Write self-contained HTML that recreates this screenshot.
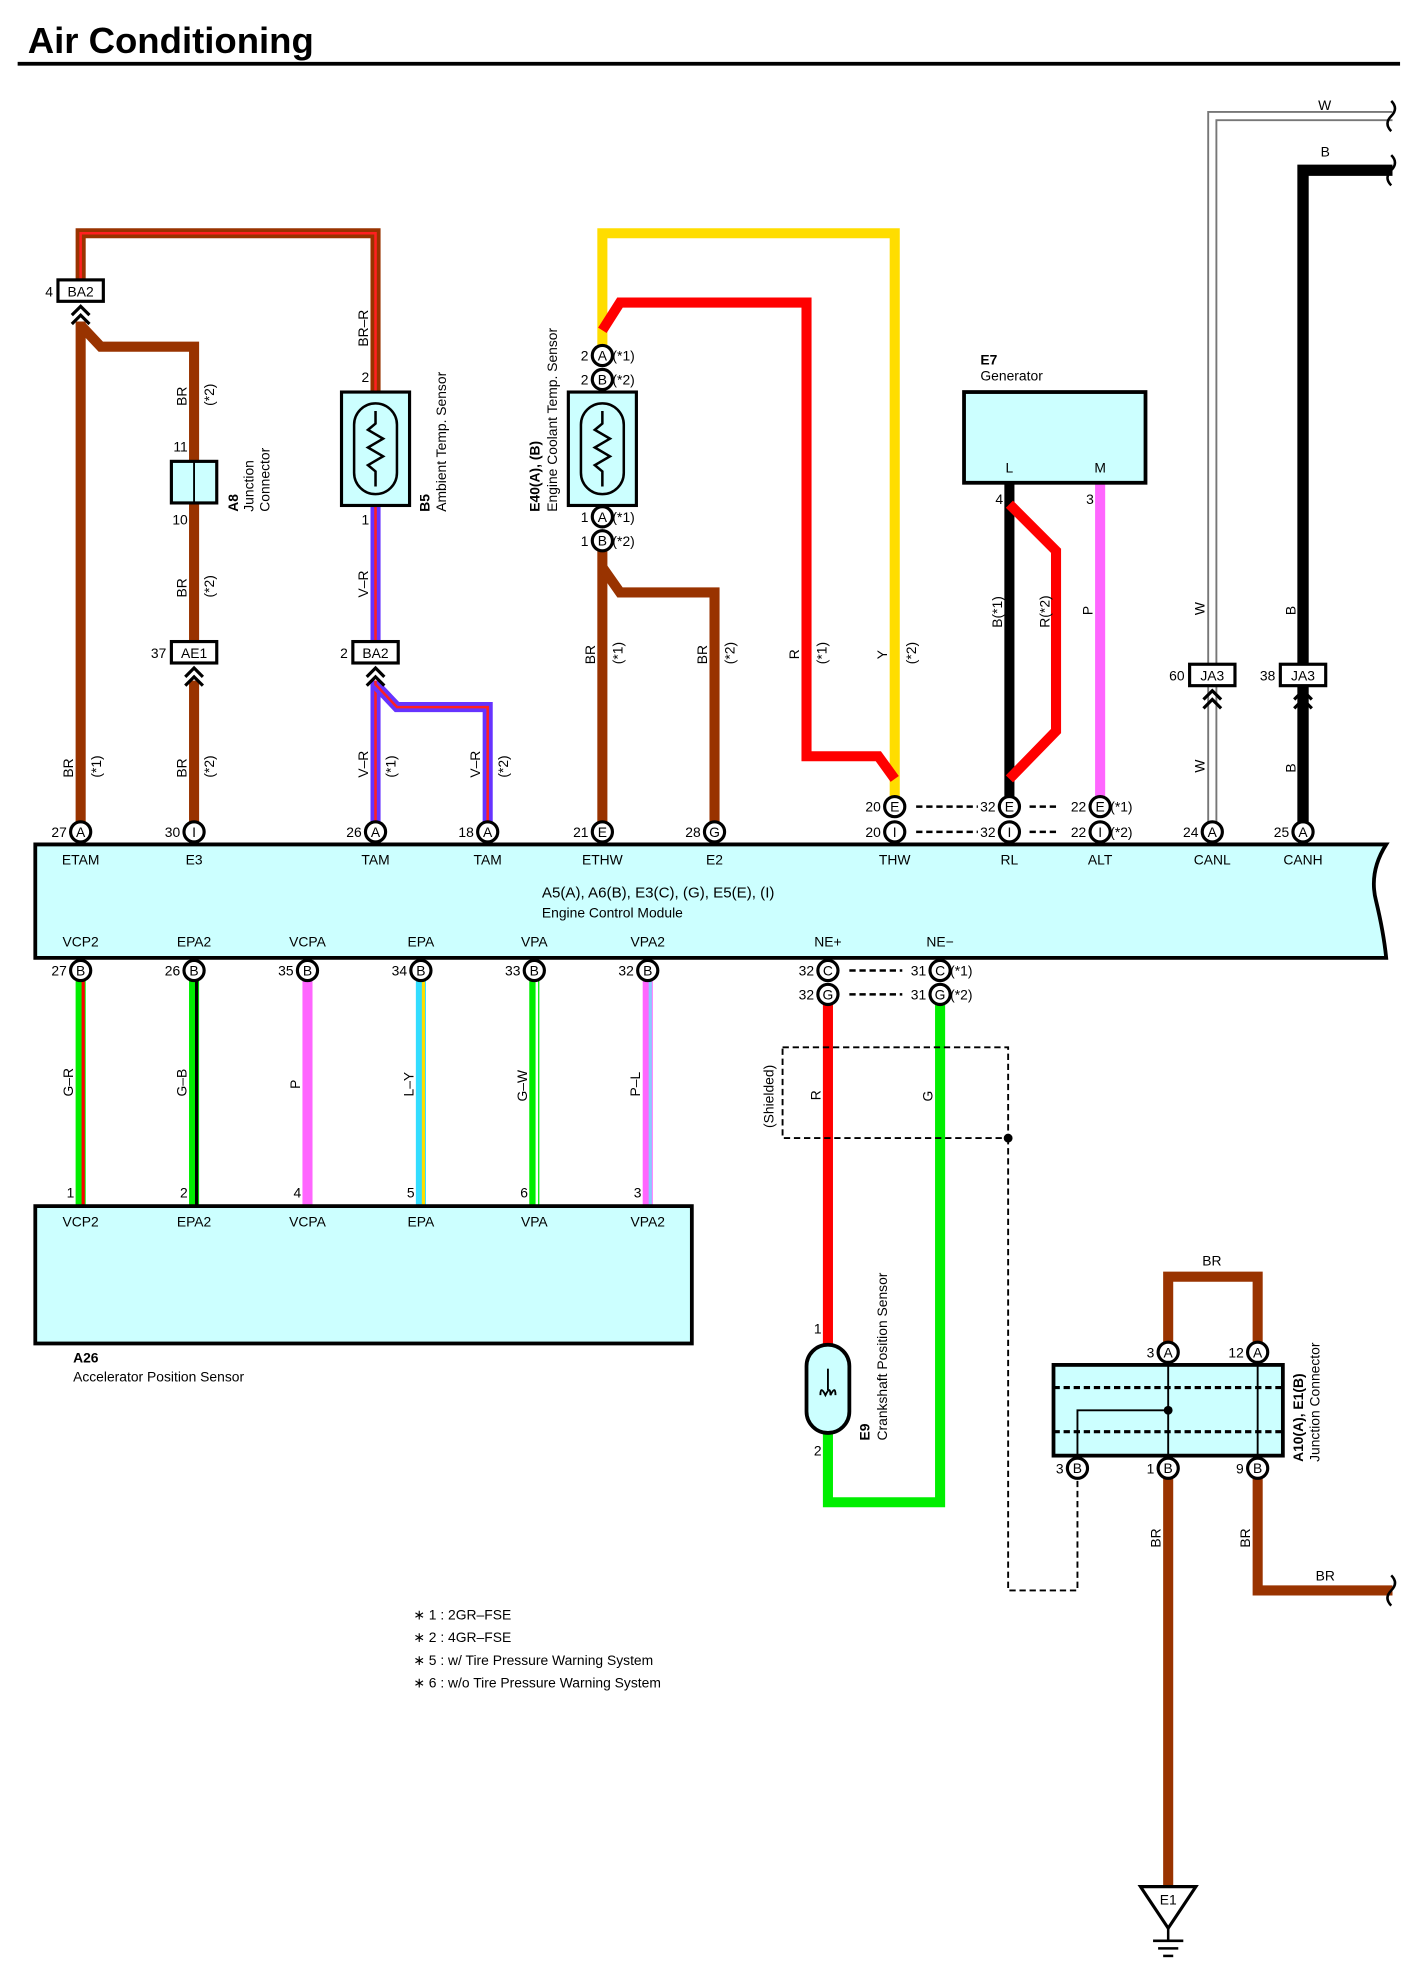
<!DOCTYPE html>
<html><head><meta charset="utf-8"><style>
html,body{margin:0;padding:0;background:#fff}
svg{display:block}
text{font-family:"Liberation Sans",Arial,sans-serif;font-size:11px;fill:#000}
.p{fill:#fff;stroke:#000;stroke-width:2.5}
.pl{font-size:10px;text-anchor:middle;dominant-baseline:central}
.n{font-size:11px;text-anchor:end}
.c{text-anchor:middle}
</style></head><body>
<svg width="1424" height="1980" viewBox="0 0 1130 1571" xmlns="http://www.w3.org/2000/svg">
<text x="22" y="42" style="font-size:29px;font-weight:bold">Air Conditioning</text>
<rect x="14" y="49" width="1097" height="3" fill="#000"/>

<g fill="none" stroke-linejoin="miter">
<polyline points="64,225 64,185 298,185 298,312" stroke="#993300" stroke-width="8"/>
<polyline points="64,225 64,185 298,185 298,312" stroke="#ff2020" stroke-width="2"/>
<polyline points="64,255 64,660" stroke="#993300" stroke-width="8"/>
<polyline points="64,258 80,275 154,275 154,366" stroke="#993300" stroke-width="8"/>
<polyline points="154,399 154,512" stroke="#993300" stroke-width="8"/>
<polyline points="154,540 154,660" stroke="#993300" stroke-width="8"/>
<polyline points="298,400 298,512" stroke="#6633ff" stroke-width="8"/>
<polyline points="298,400 298,512" stroke="#ff2020" stroke-width="2"/>
<polyline points="298,540 298,660" stroke="#6633ff" stroke-width="8"/>
<polyline points="298,540 298,660" stroke="#ff2020" stroke-width="2"/>
<polyline points="298,543 315,561 387,561 387,660" stroke="#6633ff" stroke-width="8"/>
<polyline points="298,543 315,561 387,561 387,660" stroke="#ff2020" stroke-width="2"/>
<polyline points="478,282 478,185 710,185 710,640" stroke="#ffdd00" stroke-width="8"/>
<polyline points="478,262 492,240 640,240 640,600 697,600 710,618" stroke="#ff0000" stroke-width="8"/>
<polyline points="478,430 478,660" stroke="#993300" stroke-width="8"/>
<polyline points="478,450 492,470 567,470 567,660" stroke="#993300" stroke-width="8"/>
<polyline points="801,383 801,640" stroke="#000" stroke-width="8"/>
<polyline points="801,400 838,437 838,580 801,618" stroke="#ff0000" stroke-width="8"/>
<polyline points="873,383 873,640" stroke="#ff66ff" stroke-width="8"/>
<polyline points="962,660 962,92 1105,92" stroke="#777" stroke-width="8"/>
<polyline points="962,660 962,92 1105,92" stroke="#fff" stroke-width="5"/>
<polyline points="1034,660 1034,135 1105,135" stroke="#000" stroke-width="9"/>
<line x1="64" y1="778" x2="64" y2="957" stroke="#00ee00" stroke-width="8"/><line x1="66" y1="778" x2="66" y2="957" stroke="#ff0000" stroke-width="2.5"/>
<line x1="154" y1="778" x2="154" y2="957" stroke="#00ee00" stroke-width="8"/><line x1="156" y1="778" x2="156" y2="957" stroke="#000" stroke-width="2.5"/>
<line x1="244" y1="778" x2="244" y2="957" stroke="#ff66ff" stroke-width="8"/>
<line x1="334" y1="778" x2="334" y2="957" stroke="#33ddff" stroke-width="8"/><line x1="336" y1="778" x2="336" y2="957" stroke="#ffdd00" stroke-width="2.5"/>
<line x1="424" y1="778" x2="424" y2="957" stroke="#00ee00" stroke-width="8"/><line x1="426" y1="778" x2="426" y2="957" stroke="#fff" stroke-width="2"/>
<line x1="514" y1="778" x2="514" y2="957" stroke="#ff66ff" stroke-width="8"/><line x1="516" y1="778" x2="516" y2="957" stroke="#88ccff" stroke-width="2.5"/>
<line x1="657" y1="797" x2="657" y2="1068" stroke="#ff0000" stroke-width="8"/>
<polyline points="657,1137 657,1192 746,1192 746,797" stroke="#00ee00" stroke-width="8"/>
<rect x="621" y="831" width="179" height="72" stroke="#000" stroke-width="1.5" stroke-dasharray="5,3"/>
<polyline points="800,903 800,1262 855,1262 855,1173" stroke="#000" stroke-width="1.5" stroke-dasharray="5,3"/>
<polyline points="927,1065 927,1013 998,1013 998,1065" stroke="#993300" stroke-width="8"/>
<line x1="927" y1="1173" x2="927" y2="1497" stroke="#993300" stroke-width="8"/>
<polyline points="998,1173 998,1262 1105,1262" stroke="#993300" stroke-width="8"/>
<g stroke="#000" stroke-width="2" stroke-dasharray="5,3">
<line x1="727" y1="640" x2="776" y2="640"/><line x1="727" y1="660" x2="776" y2="660"/>
<line x1="817" y1="640" x2="840" y2="640"/><line x1="817" y1="660" x2="840" y2="660"/>
<line x1="674" y1="770" x2="716" y2="770"/><line x1="674" y1="789" x2="716" y2="789"/>
</g>
<g stroke="#000" stroke-width="2">
<path d="M1104,80 q6,6 0,12 q-6,6 0,12"/>
<path d="M1104,123 q6,6 0,12 q-6,6 0,12"/>
<path d="M1104,1250 q6,6 0,12 q-6,6 0,12"/>
</g>
</g>
<circle cx="800" cy="903" r="3.5"/>

<path d="M28,670 H1100 q-14,22 -8,45 q6,25 8,45 H28 Z" fill="#ccffff" stroke="#000" stroke-width="3"/>
<g class="c">
<text x="64" y="686">ETAM</text><text x="154" y="686">E3</text><text x="298" y="686">TAM</text><text x="387" y="686">TAM</text><text x="478" y="686">ETHW</text><text x="567" y="686">E2</text><text x="710" y="686">THW</text><text x="801" y="686">RL</text><text x="873" y="686">ALT</text><text x="962" y="686">CANL</text><text x="1034" y="686">CANH</text>
<text x="64" y="751">VCP2</text><text x="154" y="751">EPA2</text><text x="244" y="751">VCPA</text><text x="334" y="751">EPA</text><text x="424" y="751">VPA</text><text x="514" y="751">VPA2</text><text x="657" y="751">NE+</text><text x="746" y="751">NE−</text>
</g>
<text x="430" y="712" style="font-size:12px">A5(A), A6(B), E3(C), (G), E5(E), (I)</text>
<text x="430" y="728">Engine Control Module</text>

<rect x="28" y="957" width="521" height="109" fill="#ccffff" stroke="#000" stroke-width="3"/>
<g class="c"><text x="64" y="973">VCP2</text><text x="154" y="973">EPA2</text><text x="244" y="973">VCPA</text><text x="334" y="973">EPA</text><text x="424" y="973">VPA</text><text x="514" y="973">VPA2</text></g>
<g class="n"><text x="59" y="950">1</text><text x="149" y="950">2</text><text x="239" y="950">4</text><text x="329" y="950">5</text><text x="419" y="950">6</text><text x="509" y="950">3</text></g>
<text x="58" y="1081" style="font-weight:bold">A26</text>
<text x="58" y="1096">Accelerator Position Sensor</text>

<g>
<circle class="p" cx="64" cy="660" r="8"/><circle class="p" cx="154" cy="660" r="8"/><circle class="p" cx="298" cy="660" r="8"/><circle class="p" cx="387" cy="660" r="8"/><circle class="p" cx="478" cy="660" r="8"/><circle class="p" cx="567" cy="660" r="8"/>
<circle class="p" cx="710" cy="640" r="8"/><circle class="p" cx="710" cy="660" r="8"/><circle class="p" cx="801" cy="640" r="8"/><circle class="p" cx="801" cy="660" r="8"/><circle class="p" cx="873" cy="640" r="8"/><circle class="p" cx="873" cy="660" r="8"/>
<circle class="p" cx="962" cy="660" r="8"/><circle class="p" cx="1034" cy="660" r="8"/>
<circle class="p" cx="64" cy="770" r="8"/><circle class="p" cx="154" cy="770" r="8"/><circle class="p" cx="244" cy="770" r="8"/><circle class="p" cx="334" cy="770" r="8"/><circle class="p" cx="424" cy="770" r="8"/><circle class="p" cx="514" cy="770" r="8"/>
<circle class="p" cx="657" cy="770" r="8"/><circle class="p" cx="746" cy="770" r="8"/><circle class="p" cx="657" cy="789" r="8"/><circle class="p" cx="746" cy="789" r="8"/>
<circle class="p" cx="478" cy="282" r="8"/><circle class="p" cx="478" cy="301" r="8"/><circle class="p" cx="478" cy="410" r="8"/><circle class="p" cx="478" cy="429" r="8"/>
<circle class="p" cx="927" cy="1073" r="8"/><circle class="p" cx="998" cy="1073" r="8"/><circle class="p" cx="855" cy="1165" r="8"/><circle class="p" cx="927" cy="1165" r="8"/><circle class="p" cx="998" cy="1165" r="8"/>
</g>
<g class="pl">
<text x="64" y="660">A</text><text x="154" y="660">I</text><text x="298" y="660">A</text><text x="387" y="660">A</text><text x="478" y="660">E</text><text x="567" y="660">G</text>
<text x="710" y="640">E</text><text x="710" y="660">I</text><text x="801" y="640">E</text><text x="801" y="660">I</text><text x="873" y="640">E</text><text x="873" y="660">I</text>
<text x="962" y="660">A</text><text x="1034" y="660">A</text>
<text x="64" y="770">B</text><text x="154" y="770">B</text><text x="244" y="770">B</text><text x="334" y="770">B</text><text x="424" y="770">B</text><text x="514" y="770">B</text>
<text x="657" y="770">C</text><text x="746" y="770">C</text><text x="657" y="789">G</text><text x="746" y="789">G</text>
<text x="478" y="282">A</text><text x="478" y="301">B</text><text x="478" y="410">A</text><text x="478" y="429">B</text>
<text x="927" y="1073">A</text><text x="998" y="1073">A</text><text x="855" y="1165">B</text><text x="927" y="1165">B</text><text x="998" y="1165">B</text>
</g>
<g class="n">
<text x="53" y="664">27</text><text x="143" y="664">30</text><text x="287" y="664">26</text><text x="376" y="664">18</text><text x="467" y="664">21</text><text x="556" y="664">28</text>
<text x="699" y="644">20</text><text x="699" y="664">20</text><text x="790" y="644">32</text><text x="790" y="664">32</text><text x="862" y="644">22</text><text x="862" y="664">22</text>
<text x="951" y="664">24</text><text x="1023" y="664">25</text>
<text x="53" y="774">27</text><text x="143" y="774">26</text><text x="233" y="774">35</text><text x="323" y="774">34</text><text x="413" y="774">33</text><text x="503" y="774">32</text>
<text x="646" y="774">32</text><text x="735" y="774">31</text><text x="646" y="793">32</text><text x="735" y="793">31</text>
<text x="467" y="286">2</text><text x="467" y="305">2</text><text x="467" y="414">1</text><text x="467" y="433">1</text>
<text x="916" y="1077">3</text><text x="987" y="1077">12</text><text x="844" y="1169">3</text><text x="916" y="1169">1</text><text x="987" y="1169">9</text>
<text x="293" y="303">2</text><text x="293" y="416">1</text><text x="149" y="358">11</text><text x="149" y="416">10</text>
<text x="796" y="400">4</text><text x="868" y="400">3</text>
<text x="652" y="1058">1</text><text x="652" y="1155">2</text>
</g>
<g>
<text x="486" y="286">(*1)</text><text x="486" y="305">(*2)</text><text x="486" y="414">(*1)</text><text x="486" y="433">(*2)</text>
<text x="881" y="644">(*1)</text><text x="881" y="664">(*2)</text>
<text x="754" y="774">(*1)</text><text x="754" y="793">(*2)</text>
</g>

<g fill="#fff" stroke="#000" stroke-width="2.5">
<rect x="46" y="222" width="36" height="17"/><rect x="136" y="509" width="36" height="17"/><rect x="280" y="509" width="36" height="17"/>
<rect x="944" y="527" width="36" height="17"/><rect x="1016" y="527" width="36" height="17"/>
</g>
<g class="c" style="font-size:11px">
<text x="64" y="235">BA2</text><text x="154" y="522">AE1</text><text x="298" y="522">BA2</text><text x="962" y="540">JA3</text><text x="1034" y="540">JA3</text>
</g>
<g class="n"><text x="42" y="235">4</text><text x="132" y="522">37</text><text x="276" y="522">2</text><text x="940" y="540">60</text><text x="1012" y="540">38</text></g>
<g fill="none" stroke="#000" stroke-width="2.5">
<path d="M57,250 l7,-7 l7,7 M57,257 l7,-7 l7,7"/>
<path d="M147,537 l7,-7 l7,7 M147,544 l7,-7 l7,7"/>
<path d="M291,537 l7,-7 l7,7 M291,544 l7,-7 l7,7"/>
<path d="M955,555 l7,-7 l7,7 M955,562 l7,-7 l7,7"/>
<path d="M1027,555 l7,-7 l7,7 M1027,562 l7,-7 l7,7"/>
</g>

<rect x="136" y="366" width="36" height="33" fill="#ccffff" stroke="#000" stroke-width="2.5"/>
<line x1="154" y1="366" x2="154" y2="399" stroke="#000" stroke-width="1.5"/>
<rect x="271" y="311" width="54" height="90" fill="#ccffff" stroke="#000" stroke-width="2.5"/>
<rect x="281" y="320" width="34" height="72" rx="17" fill="none" stroke="#000" stroke-width="2"/>
<polyline points="298,326 298,336 292,341 304,348 292,355 304,362 292,369 298,374 298,386" fill="none" stroke="#000" stroke-width="2"/>
<rect x="451" y="311" width="54" height="90" fill="#ccffff" stroke="#000" stroke-width="2.5"/>
<rect x="461" y="320" width="34" height="72" rx="17" fill="none" stroke="#000" stroke-width="2"/>
<polyline points="478,326 478,336 472,341 484,348 472,355 484,362 472,369 478,374 478,386" fill="none" stroke="#000" stroke-width="2"/>
<rect x="765" y="311" width="144" height="72" fill="#ccffff" stroke="#000" stroke-width="3"/>
<text x="801" y="375" class="c">L</text><text x="873" y="375" class="c">M</text>
<text x="778" y="289" style="font-weight:bold">E7</text><text x="778" y="302">Generator</text>
<rect x="640" y="1067" width="34" height="70" rx="17" fill="#ccffff" stroke="#000" stroke-width="3"/>
<path d="M651,1107 q0,-8 4,0 q4,-8 4,0 q4,-8 4,0" fill="none" stroke="#000" stroke-width="1.5"/>
<line x1="657" y1="1086" x2="657" y2="1103" stroke="#000" stroke-width="1.5"/>
<rect x="836" y="1083" width="182" height="72" fill="#ccffff" stroke="#000" stroke-width="3"/>
<g stroke="#000" stroke-width="2.5" stroke-dasharray="5,3"><line x1="836" y1="1101" x2="1018" y2="1101"/><line x1="836" y1="1136" x2="1018" y2="1136"/></g>
<g stroke="#000" stroke-width="1.5" fill="none"><line x1="927" y1="1081" x2="927" y2="1157"/><line x1="998" y1="1081" x2="998" y2="1157"/><polyline points="855,1157 855,1119 927,1119"/></g>
<circle cx="927" cy="1119" r="3.5"/>
<path d="M905,1497 h44 l-22,33 Z" fill="#fff" stroke="#000" stroke-width="2.5"/>
<text x="927" y="1511" class="c">E1</text>
<g stroke="#000" stroke-width="2"><line x1="927" y1="1530" x2="927" y2="1540"/><line x1="915" y1="1540" x2="939" y2="1540"/><line x1="919" y1="1546" x2="935" y2="1546"/><line x1="923" y1="1552" x2="931" y2="1552"/></g>

<text x="1046" y="87">W</text><text x="1048" y="124">B</text>
<text x="954" y="1004">BR</text><text x="1044" y="1254">BR</text>

<g>
<text transform="translate(58,617) rotate(-90)">BR</text><text transform="translate(80,617) rotate(-90)">(*1)</text>
<text transform="translate(148,322) rotate(-90)">BR</text><text transform="translate(170,322) rotate(-90)">(*2)</text>
<text transform="translate(148,474) rotate(-90)">BR</text><text transform="translate(170,474) rotate(-90)">(*2)</text>
<text transform="translate(148,617) rotate(-90)">BR</text><text transform="translate(170,617) rotate(-90)">(*2)</text>
<text transform="translate(292,275) rotate(-90)">BR–R</text>
<text transform="translate(292,474) rotate(-90)">V–R</text>
<text transform="translate(292,617) rotate(-90)">V–R</text><text transform="translate(314,617) rotate(-90)">(*1)</text>
<text transform="translate(381,617) rotate(-90)">V–R</text><text transform="translate(403,617) rotate(-90)">(*2)</text>
<text transform="translate(472,527) rotate(-90)">BR</text><text transform="translate(494,527) rotate(-90)">(*1)</text>
<text transform="translate(561,527) rotate(-90)">BR</text><text transform="translate(583,527) rotate(-90)">(*2)</text>
<text transform="translate(634,523) rotate(-90)">R</text><text transform="translate(656,527) rotate(-90)">(*1)</text>
<text transform="translate(704,523) rotate(-90)">Y</text><text transform="translate(727,527) rotate(-90)">(*2)</text>
<text transform="translate(795,498) rotate(-90)">B(*1)</text><text transform="translate(833,498) rotate(-90)">R(*2)</text>
<text transform="translate(867,488) rotate(-90)">P</text>
<text transform="translate(956,488) rotate(-90)">W</text><text transform="translate(956,613) rotate(-90)">W</text>
<text transform="translate(1028,488) rotate(-90)">B</text><text transform="translate(1028,613) rotate(-90)">B</text>
<text transform="translate(58,870) rotate(-90)">G–R</text><text transform="translate(148,870) rotate(-90)">G–B</text><text transform="translate(238,864) rotate(-90)">P</text>
<text transform="translate(328,870) rotate(-90)">L–Y</text><text transform="translate(418,874) rotate(-90)">G–W</text><text transform="translate(508,870) rotate(-90)">P–L</text>
<text transform="translate(614,895) rotate(-90)">(Shielded)</text>
<text transform="translate(651,873) rotate(-90)">R</text><text transform="translate(740,874) rotate(-90)">G</text>
<text transform="translate(921,1228) rotate(-90)">BR</text><text transform="translate(992,1228) rotate(-90)">BR</text>
<text transform="translate(189,406) rotate(-90)" style="font-weight:bold">A8</text>
<text transform="translate(201,406) rotate(-90)">Junction</text><text transform="translate(214,406) rotate(-90)">Connector</text>
<text transform="translate(341,406) rotate(-90)" style="font-weight:bold">B5</text>
<text transform="translate(354,406) rotate(-90)">Ambient Temp.  Sensor</text>
<text transform="translate(428,406) rotate(-90)" style="font-weight:bold">E40(A), (B)</text>
<text transform="translate(442,406) rotate(-90)">Engine Coolant Temp.  Sensor</text>
<text transform="translate(690,1143) rotate(-90)" style="font-weight:bold">E9</text>
<text transform="translate(704,1143) rotate(-90)">Crankshaft Position Sensor</text>
<text transform="translate(1034,1160) rotate(-90)" style="font-weight:bold">A10(A), E1(B)</text>
<text transform="translate(1047,1160) rotate(-90)">Junction Connector</text>
</g>

<text x="328" y="1285">∗ 1 : 2GR–FSE</text>
<text x="328" y="1303">∗ 2 : 4GR–FSE</text>
<text x="328" y="1321">∗ 5 : w/ Tire Pressure Warning System</text>
<text x="328" y="1339">∗ 6 : w/o Tire Pressure Warning System</text>
</svg>
</body></html>
